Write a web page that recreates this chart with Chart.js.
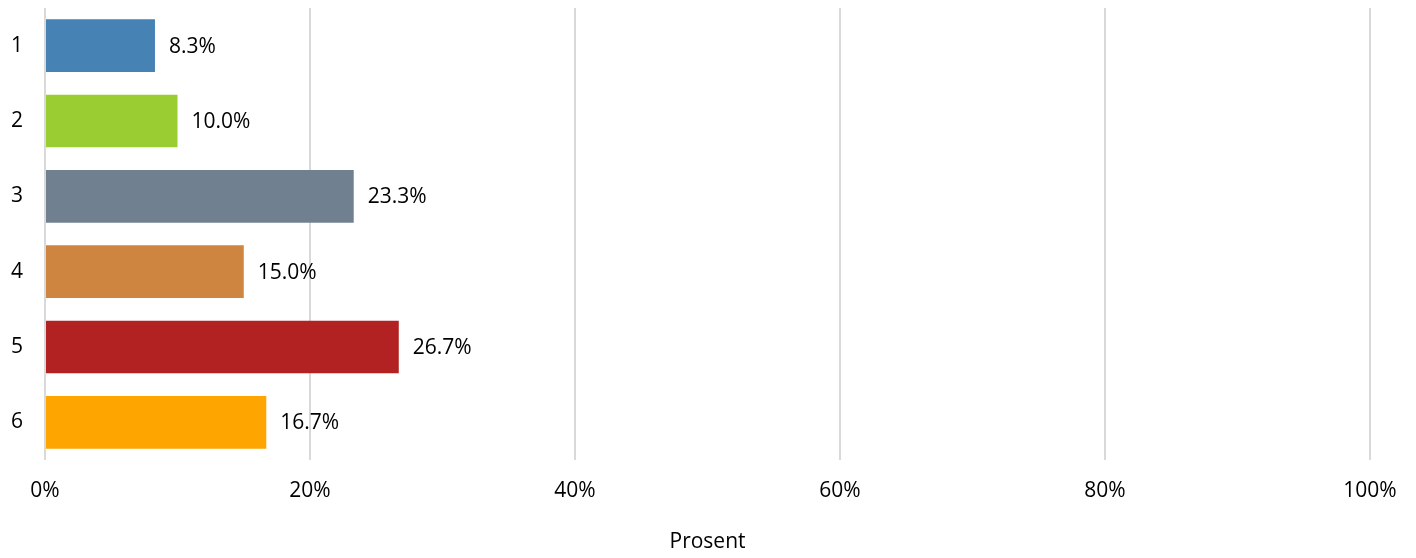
<!DOCTYPE html>
<html>
<head>
<meta charset="utf-8">
<script src="https://cdn.jsdelivr.net/npm/chart.js@4/dist/chart.umd.min.js"></script>
<style>
  html, body { margin: 0; padding: 0; background: #fff; }
  #wrap { width: 1416px; height: 558px; }
</style>
</head>
<body>
<div id="wrap"><canvas id="c" width="1416" height="558"></canvas></div>
<script>
const categories = ['1', '2', '3', '4', '5', '6'];
const values = [8.3, 10.0, 23.3, 15.0, 26.7, 16.7];
const barColors = ['#4682B4', '#9ACD32', '#708090', '#CD853F', '#B22222', '#FFA500'];
const xTicks = [0, 20, 40, 60, 80, 100];
const axisTitle = 'Prosent';

const FONT = "'Open Sans', 'Liberation Sans', sans-serif";
const FONT_SIZE = 21;

// Writes each bar's percentage just past its end
const valueLabels = {
  id: 'valueLabels',
  afterDatasetsDraw(chart) {
    const ctx = chart.ctx;
    const meta = chart.getDatasetMeta(0);
    ctx.save();
    ctx.font = FONT_SIZE + 'px ' + FONT;
    ctx.fillStyle = '#000';
    ctx.textAlign = 'left';
    ctx.textBaseline = 'middle';
    meta.data.forEach((bar, i) => {
      ctx.fillText(values[i].toFixed(1) + '%', bar.x + 14, bar.y + 1);
    });
    ctx.restore();
  }
};

new Chart(document.getElementById('c'), {
  type: 'bar',
  data: {
    labels: categories,
    datasets: [{
      data: values,
      backgroundColor: barColors,
      borderWidth: 0,
      categoryPercentage: 1.0,
      barPercentage: 0.7
    }]
  },
  options: {
    indexAxis: 'y',
    responsive: false,
    animation: false,
    layout: { padding: { top: 8, right: 46, left: 11, bottom: 0 } },
    plugins: {
      legend: { display: false },
      tooltip: { enabled: false }
    },
    scales: {
      x: {
        min: 0,
        max: 100,
        afterBuildTicks(axis) { axis.ticks = xTicks.map(v => ({ value: v })); },
        afterFit(axis) {
          axis.height = 98;
          axis.paddingLeft = 0;
          axis.paddingRight = 0;
        },
        grid: { color: '#d9d9d9', lineWidth: 2, drawTicks: false },
        border: { display: false },
        ticks: {
          padding: 18,
          color: '#000',
          font: { family: FONT, size: FONT_SIZE },
          callback: v => v + '%'
        },
        title: {
          display: true,
          text: axisTitle,
          color: '#000',
          font: { family: FONT, size: FONT_SIZE },
          padding: { top: 13, bottom: 3 }
        }
      },
      y: {
        afterFit(axis) {
          axis.width = 34;
          axis.paddingTop = 0;
          axis.paddingBottom = 0;
        },
        grid: { display: false },
        border: { display: false },
        ticks: {
          padding: 0,
          crossAlign: 'far',
          color: '#000',
          font: { family: FONT, size: FONT_SIZE }
        }
      }
    }
  },
  plugins: [valueLabels]
});
</script>
</body>
</html>
